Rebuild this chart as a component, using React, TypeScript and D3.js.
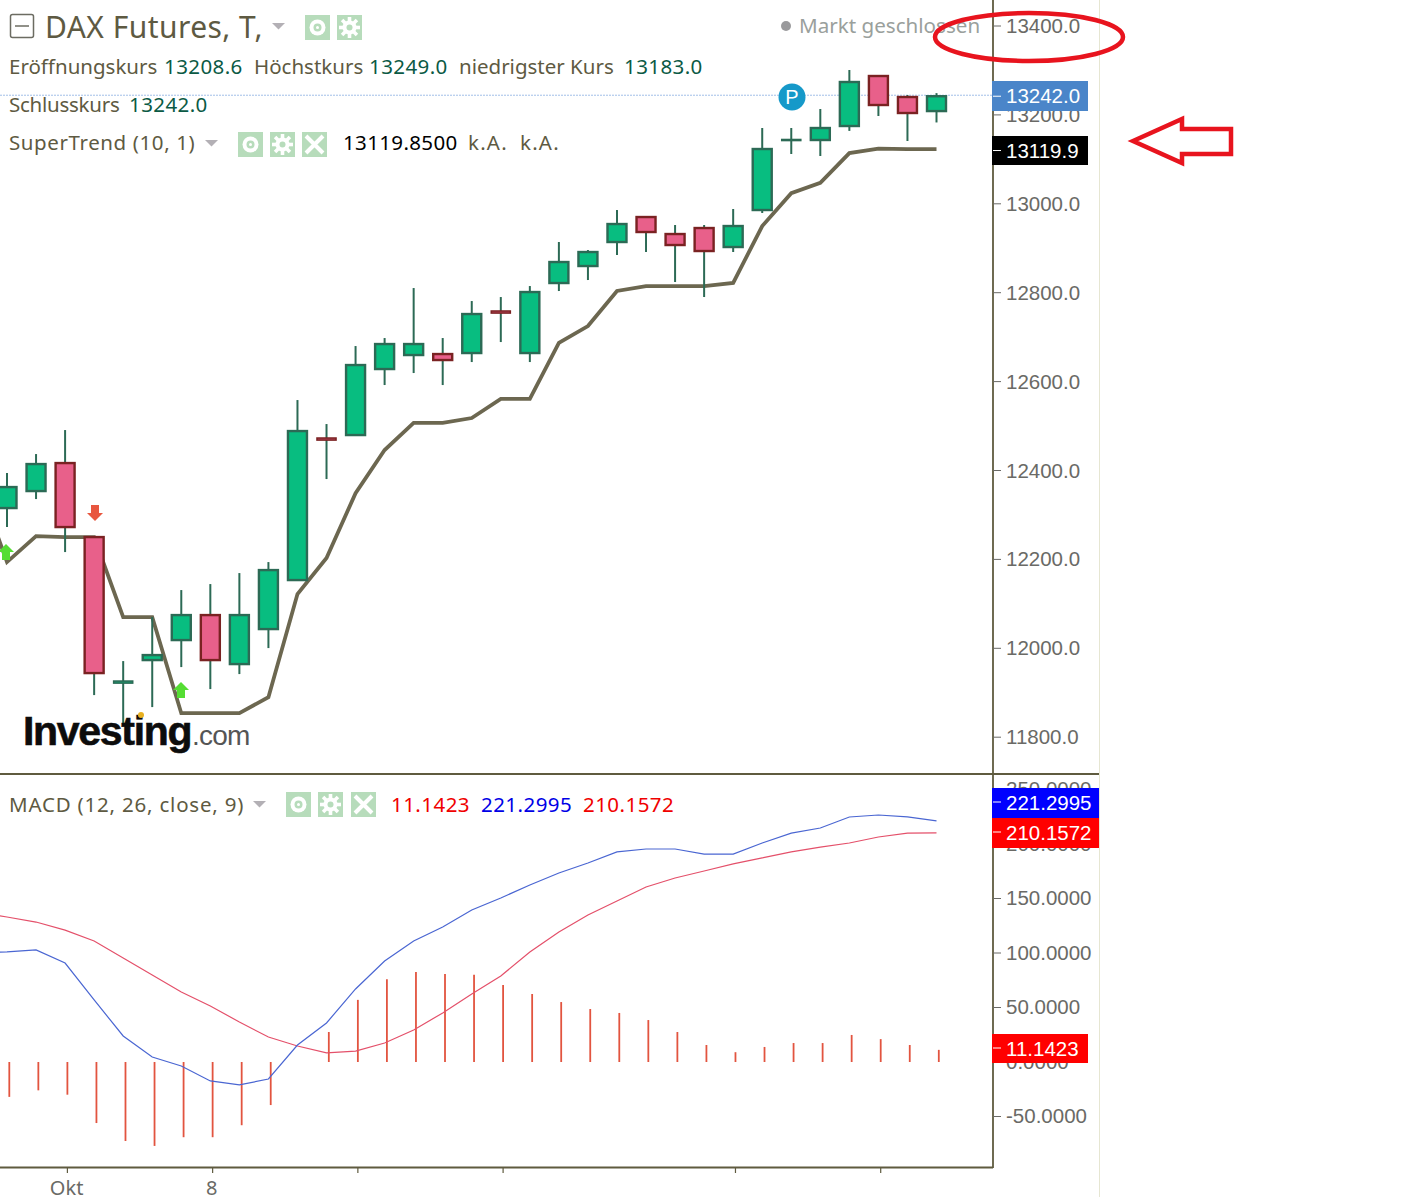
import React from "react";
import * as d3 from "d3";

const opens = [12315.5,12353.75,12416.75,12250.25,11921.75,11973.5,12018.5,12074.75,11964.5,12043.25,12153.5,12473,12479.75,12628.25,12659.75,12662,12664.25,12758.75,12664.25,12821.75,12860,12914,12970.25,12932,12945.5,12902.75,12986,13142.4,13143.5,13175,13287.5,13240.25,13208.6];
const closes = [12362.75,12414.5,12272.75,11944.25,11926.25,11984.75,12074.75,11973.5,12074.75,12176,12488.75,12468.5,12637.25,12684.5,12684.5,12648.5,12752,12754.25,12801.5,12869,12891.5,12954.5,12936.5,12907.25,12893.75,12950,13123.25,13144.6,13170.5,13274,13222.25,13204.25,13242];
const highs = [12394.25,12437,12491,12250.25,11971.25,12070.25,12131,12144.5,12169.25,12194,12558.5,12504.5,12680,12698,12810.5,12698,12781.25,12790.25,12815,12914,12896,12986,12970.25,12952.25,12952.25,12988.25,13170.5,13170.5,13213.25,13301,13287.5,13244.75,13249];
const lows = [12272.75,12335.75,12216.5,11894.75,11827.25,11867.75,11957.75,11908.25,11942,12000.5,12153.5,12380.75,12479.75,12592.25,12619.25,12592.25,12644,12689,12644,12803.75,12828.5,12884.75,12891.5,12824,12790.25,12891.5,12979.25,13112,13107.5,13164,13197.5,13141.25,13183];
// The first entry of each line series belongs to the session just left of the visible area.
const superTrend = [12376,12194,12252.5,12250,12250,12070,12070,11854,11854,11854,11890,12122,12203,12349,12446,12507,12507,12518,12561,12561,12687,12725,12804,12815,12815,12815,12822,12950,13024,13047,13114,13124,13123,13123];
const macdLine = [100.5,101,102.8,90.8,56.9,23.9,4.6,-3.7,-17.4,-21,-15.6,15.6,35.8,67,92.7,111,123.9,139.4,150.5,162.4,173.4,182.6,192.7,195.4,195.4,190.8,190.8,200.9,210,214.7,224.8,226.6,224.8,221.3];
const signalLine = [137.6,133,128.4,121,111,95.4,79.8,64.2,51.4,36.7,22.9,14.7,8.3,10,17.4,29.4,45,62.4,78.9,100.9,119.3,134.9,147.7,160.6,168.8,175.2,181.7,187.2,192.7,197.2,200.9,206.4,210,210.16];
const histogram = [-32,-26,-30,-56,-72.5,-77,-69,-69,-58,-39.5,0,27.5,57,76,82.5,80.7,80,70.6,62.4,55,48.6,45,38.5,27.5,15.6,9,13.8,17.4,17.4,24.8,21,15.6,11.14];

const priceTicks = [13400,13200,13000,12800,12600,12400,12200,12000,11800];
const macdTicks = [250,200,150,100,50,0,-50];
const timeTickIndex = [2,7,12,17,25,30];
const timeTickLabels: Record<number,string> = {2:"Okt",7:"8"};

const x = d3.scaleLinear().domain([0,32]).range([7,936.5]);
const yP = d3.scaleLinear().domain([13400,11800]).range([26,737.2]);
const yM = d3.scaleLinear().domain([0,150]).range([1062,898.5]);
const lineP = d3.line<number>().x((_,i)=>x(i-1)).y(d=>yP(d));
const lineM = d3.line<number>().x((_,i)=>x(i-1)).y(d=>yM(d));

const UI = "'Noto Sans', sans-serif";
const AX = "'Liberation Sans', Arial, sans-serif";
const OLIVE = "#5f5b3f";
const LBL = "#6a6a66";
const GREENV = "#0b5a45";

function Icon({x:ix,y:iy,kind}:{x:number;y:number;kind:"eye"|"gear"|"x"}) {
  const c = 12.5;
  return <g transform={`translate(${ix},${iy})`}>
    <rect width={25} height={25} fill="#b7dcbb"/>
    {kind==="eye" && <><circle cx={c} cy={c} r={8} fill="#fff"/><circle cx={c} cy={c} r={4} fill="#b7dcbb"/><circle cx={c} cy={c} r={1.5} fill="#fff"/></>}
    {kind==="gear" && <><circle cx={c} cy={c} r={7} fill="#fff"/>
      {[0,45,90,135].map(a=><rect key={a} x={c-1.8} y={c-10.5} width={3.6} height={21} fill="#fff" transform={`rotate(${a} ${c} ${c})`}/>)}
      <circle cx={c} cy={c} r={3} fill="#b7dcbb"/></>}
    {kind==="x" && <path d="M4,4L21,21M21,4L4,21" stroke="#fff" strokeWidth={4}/>}
  </g>;
}
function Tri({x:tx,y:ty}:{x:number;y:number}) {
  return <path d={`M${tx},${ty}h13l-6.5,6.5z`} fill="#b3b0b5"/>;
}
function Arrow({cx,top,up,fill}:{cx:number;top:number;up:boolean;fill:string}) {
  const d = up
    ? `M${cx},${top}l8,8h-4v8h-8v-8h-4z`
    : `M${cx},${top+16}l8,-8h-4v-8h-8v8h-4z`;
  return <path d={d} fill={fill}/>;
}
function Box({y,h,w,fill,text,tv}:{y:number;h:number;w:number;fill:string;text:string;tv:number}) {
  return <g>
    <rect x={992} y={y} width={w} height={h} fill={fill}/>
    <line x1={993} x2={1001} y1={tv} y2={tv} stroke="#fff" strokeWidth={1}/>
    <text x={1006} y={y+h/2+7} fill="#fff" fontFamily={AX} fontSize={20.5}>{text}</text>
  </g>;
}

export default function App() {
  return (
    <svg width={1407} height={1197} style={{position:"absolute",left:0,top:0,background:"#fff"}}>
      <defs>
        <clipPath id="plot"><rect x={0} y={0} width={993} height={1167}/></clipPath>
      </defs>

      {/* frame */}
      <line x1={1099.5} x2={1099.5} y1={0} y2={1197} stroke="#e6e6d2" strokeWidth={1}/>

      {/* current price line */}
      <line x1={0} x2={993} y1={yP(13242)-1} y2={yP(13242)-1} stroke="#a3bfe8" strokeWidth={1} strokeDasharray="2 1"/>

      <g clipPath="url(#plot)">
        <path d={lineP(superTrend)!} fill="none" stroke="#6c6750" strokeWidth={3.8}/>
        {opens.map((o,i)=>{
          const c = closes[i], up = c>=o;
          const top = yP(Math.max(o,c)), bot = yP(Math.min(o,c));
          const cx = x(i);
          const doji = bot-top<4;
          return <g key={i}>
            <line x1={cx} x2={cx} y1={yP(highs[i])} y2={yP(lows[i])} stroke="#2c6a55" strokeWidth={2}/>
            <rect x={cx-9.5} y={top} width={19} height={Math.max(bot-top,1)}
              fill={up?"#08bd80":"#e8608a"} stroke={up?"#2c6a55":"#7a2222"} strokeWidth={doji?1.6:2.4}/>
          </g>;
        })}

        {/* histogram */}
        {histogram.map((v,i)=>(
          <line key={i} x1={x(i)+2.3} x2={x(i)+2.3} y1={yM(0)} y2={yM(v)} stroke="#e2543f" strokeWidth={1.8}/>
        ))}
        <path d={lineM(signalLine)!} fill="none" stroke="#e4506a" strokeWidth={1.2}/>
        <path d={lineM(macdLine)!} fill="none" stroke="#4a66d2" strokeWidth={1.2}/>
      </g>

      <Arrow cx={95} top={505} up={false} fill="#e8563f"/>
      <Arrow cx={181} top={682} up={true} fill="#55dd33"/>
      <Arrow cx={6} top={544} up={true} fill="#55dd33"/>

      {/* logo */}
      <text x={23} y={745} fontFamily={AX} fontWeight={700} fontSize={41} letterSpacing={-1.3} stroke="#0c0c0c" strokeWidth={0.6} fill="#0c0c0c">Investing</text>
      <text x={192} y={745} fontFamily={AX} fontSize={28} letterSpacing={-0.8} fill="#555">.com</text>
      <circle cx={141} cy={715} r={3} fill="#e8b020"/>

      {/* frame lines */}
      <line x1={0} x2={1099} y1={774} y2={774} stroke={OLIVE} strokeWidth={1.8}/>
      <line x1={0} x2={993} y1={1167.5} y2={1167.5} stroke={OLIVE} strokeWidth={1.8}/>
      <line x1={993} x2={993} y1={0} y2={1168} stroke={OLIVE} strokeWidth={1.8}/>

      {/* axes */}
      {priceTicks.map(t=><g key={t}>
        <line x1={993} x2={1001} y1={yP(t)} y2={yP(t)} stroke={LBL}/>
        <text x={1006} y={yP(t)+7} fill={LBL} fontFamily={AX} fontSize={20.5}>{t.toFixed(1)}</text>
      </g>)}
      {macdTicks.map(t=><g key={t}>
        <line x1={993} x2={1001} y1={yM(t)} y2={yM(t)} stroke={LBL}/>
        <text x={1006} y={yM(t)+6.5} fill={LBL} fontFamily={AX} fontSize={20.5}>{t.toFixed(4)}</text>
      </g>)}
      {timeTickIndex.map(i=><g key={i}>
        <line x1={x(i)+2.3} x2={x(i)+2.3} y1={1168} y2={1173} stroke={OLIVE} strokeWidth={1.2}/>
        {timeTickLabels[i] && <text x={x(i)+1.5} y={1195} textAnchor="middle" fill={LBL} fontFamily={UI} fontSize={20}>{timeTickLabels[i]}</text>}
      </g>)}

      {/* value tags */}
      <Box y={81} h={30} w={96} fill="#4a85c9" text="13242.0" tv={yP(13242)}/>
      <Box y={136} h={29} w={96} fill="#000" text="13119.9" tv={yP(13119.85)}/>
      <Box y={788} h={30} w={107} fill="#0000ff" text="221.2995" tv={802}/>
      <Box y={818} h={30} w={107} fill="#ff0000" text="210.1572" tv={832}/>
      <Box y={1034} h={29} w={96} fill="#ff0000" text="11.1423" tv={1048}/>

      {/* P bubble */}
      <circle cx={792} cy={97} r={13.5} fill="#1699c9"/>
      <text x={792} y={104} textAnchor="middle" fill="#fff" fontFamily={AX} fontSize={20}>P</text>

      {/* header */}
      <rect x={10.5} y={14.5} width={23} height={23} rx={2} fill="none" stroke="#6c6c62" strokeWidth={1.5}/>
      <line x1={15} x2={29} y1={26} y2={26} stroke="#6c6c62" strokeWidth={1.5}/>
      <text x={45} y={38} fill="#5e5a42" fontFamily={UI} fontSize={30} letterSpacing={0.45}>DAX Futures, T,</text>
      <Tri x={272} y={23}/>
      <Icon x={305} y={15} kind="eye"/>
      <Icon x={337} y={15} kind="gear"/>

      <circle cx={786} cy={26} r={5} fill="#9a9a9c"/>
      <text x={799} y={33} fill="#9aa09c" fontFamily={UI} fontSize={20.6}>Markt geschlossen</text>

      <g fontFamily={UI} fontSize={20.5} fill="#5e5a42">
        <text x={9} y={74}>Eröffnungskurs</text>
        <text x={164} y={74} fill={GREENV} letterSpacing={0.4}>13208.6</text>
        <text x={254} y={74}>Höchstkurs</text>
        <text x={369} y={74} fill={GREENV} letterSpacing={0.4}>13249.0</text>
        <text x={459} y={74}>niedrigster Kurs</text>
        <text x={624} y={74} fill={GREENV} letterSpacing={0.4}>13183.0</text>
        <text x={9} y={112} letterSpacing={-0.25}>Schlusskurs</text>
        <text x={129} y={112} fill={GREENV} letterSpacing={0.4}>13242.0</text>
        <text x={9} y={150} letterSpacing={0.6}>SuperTrend (10, 1)</text>
        <text x={343} y={150} fill="#000" letterSpacing={0.35}>13119.8500</text>
        <text x={468} y={150} letterSpacing={1.2}>k.A.</text>
        <text x={520} y={150} letterSpacing={1.2}>k.A.</text>
        <text x={9} y={812} letterSpacing={0.8}>MACD (12, 26, close, 9)</text>
        <text x={391} y={812} fill="#f00000" letterSpacing={0.45}>11.1423</text>
        <text x={481} y={812} fill="#0000e6" letterSpacing={0.45}>221.2995</text>
        <text x={583} y={812} fill="#f00000" letterSpacing={0.45}>210.1572</text>
      </g>
      <Tri x={205} y={140}/>
      <Icon x={238} y={132} kind="eye"/>
      <Icon x={270} y={132} kind="gear"/>
      <Icon x={302} y={132} kind="x"/>
      <Tri x={253} y={801}/>
      <Icon x={286} y={792} kind="eye"/>
      <Icon x={318} y={792} kind="gear"/>
      <Icon x={351} y={792} kind="x"/>

      {/* hand-drawn annotations */}
      <ellipse cx={1029} cy={37} rx={94} ry={24} fill="none" stroke="#e8141e" strokeWidth={4.5}/>
      <path d="M1133,141L1182,119V129H1231V154H1182V163Z" fill="none" stroke="#e8141e" strokeWidth={4.5}/>
    </svg>
  );
}
